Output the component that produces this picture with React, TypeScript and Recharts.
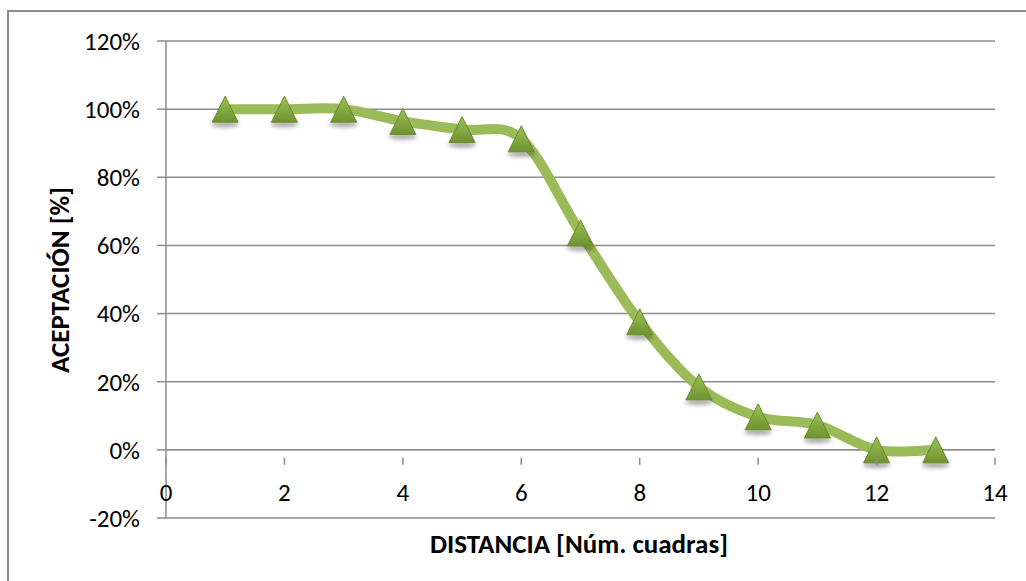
import React from 'react';
import { LineChart, Line, XAxis, YAxis, CartesianGrid, ReferenceLine } from 'recharts';

const distances = [1, 2, 3, 4, 5, 6, 7, 8, 9, 10, 11, 12, 13];
const acceptance = [1.0, 1.0, 1.0, 0.964, 0.94, 0.913, 0.637, 0.376, 0.185, 0.097, 0.073, 0.0, 0.0];
const xTicks = [0, 2, 4, 6, 8, 10, 12, 14];
const yTicks = [-0.2, 0, 0.2, 0.4, 0.6, 0.8, 1.0, 1.2];

const data = distances.map((d, i) => ({ d, v: acceptance[i] }));

const W = 1026;
const H = 581;
const M = { top: 41, right: 31, bottom: 0, left: 0 };
const Y_AXIS_W = 166;
const X_AXIS_H = 63;
const FONT = 'Carlito, "Liberation Sans Narrow", "Open Sans", sans-serif';
const GRID = '#8c8c8c';

// plot height and offset of the 0% line above the plot bottom
const plotH = H - M.top - X_AXIS_H;
const zeroUp = (plotH * (0 - yTicks[0])) / (yTicks[yTicks.length - 1] - yTicks[0]);

// Catmull-Rom style smoothing, close to Excel's smoothed line
const smooth = (ctx: any) => {
  let pts: number[][] = [];
  const k = 1 / 6;
  return {
    areaStart() {},
    areaEnd() {},
    lineStart() { pts = []; },
    point(x: number, y: number) { pts.push([+x, +y]); },
    lineEnd() {
      const n = pts.length;
      if (!n) return;
      ctx.moveTo(pts[0][0], pts[0][1]);
      for (let i = 0; i < n - 1; i++) {
        const p0 = pts[Math.max(i - 1, 0)];
        const p1 = pts[i];
        const p2 = pts[i + 1];
        const p3 = pts[Math.min(i + 2, n - 1)];
        ctx.bezierCurveTo(
          p1[0] + k * (p2[0] - p0[0]), p1[1] + k * (p2[1] - p0[1]),
          p2[0] - k * (p3[0] - p1[0]), p2[1] - k * (p3[1] - p1[1]),
          p2[0], p2[1]
        );
      }
    },
  };
};

const Triangle = (props: any) => {
  const { cx, cy, index } = props;
  if (cx == null || cy == null) return null;
  const s = 13;
  const pts = `${cx},${cy - s} ${cx + s},${cy + s} ${cx - s},${cy + s}`;
  return (
    <g key={`tri-${index}`}>
      <ellipse cx={cx} cy={cy + s + 2} rx={s + 1} ry={3} fill="#000" opacity={0.35} filter="url(#triShadow)" />
      <polygon points={pts} fill="url(#triFill)" stroke="#6b8a2e" strokeWidth={1} />
    </g>
  );
};

const XTick = (props: any) => {
  const { x, y, payload } = props;
  const y0 = y - zeroUp;
  return (
    <g>
      <line x1={x} x2={x} y1={y0} y2={y0 + 7} stroke={GRID} strokeWidth={1.5} />
      <text x={x} y={y0 + 43} textAnchor="middle" fill="#000" fontSize={25} fontFamily={FONT}>
        {payload.value}
      </text>
    </g>
  );
};

const App: React.FC = () => (
  <div style={{ position: 'absolute', left: 0, top: 0, width: W, height: H, background: '#fff', overflow: 'hidden' }}>
    <div style={{ position: 'absolute', left: 7, top: 10, width: W, height: H, borderLeft: `2px solid ${GRID}`, borderTop: `2px solid ${GRID}` }} />
    <div style={{ position: 'absolute', left: 0, top: 0 }}>
      <LineChart width={W} height={H} data={data} margin={M}>
        <defs>
          <linearGradient id="triFill" x1="0" y1="0" x2="0" y2="1">
            <stop offset="0%" stopColor="#9bc255" />
            <stop offset="100%" stopColor="#6e9330" />
          </linearGradient>
          <filter id="triShadow" x="-50%" y="-200%" width="200%" height="500%">
            <feGaussianBlur stdDeviation="2" />
          </filter>
        </defs>
        <CartesianGrid vertical={false} stroke={GRID} strokeWidth={1.5} />
        <XAxis
          dataKey="d"
          type="number"
          domain={[0, 14]}
          ticks={xTicks}
          height={X_AXIS_H}
          axisLine={false}
          tickLine={false}
          tick={<XTick />}
          interval={0}
          label={{
            content: () => (
              <text x={579} y={553} textAnchor="middle" fontSize={27} fontWeight="bold" fontFamily={FONT} fill="#000">
                DISTANCIA [Núm. cuadras]
              </text>
            ),
          }}
        />
        <YAxis
          type="number"
          domain={[-0.2, 1.2]}
          ticks={yTicks}
          width={Y_AXIS_W}
          interval={0}
          stroke={GRID}
          axisLine={{ stroke: GRID, strokeWidth: 1.5 }}
          tickLine={{ stroke: GRID, strokeWidth: 1.5 }}
          tickSize={9}
          tickMargin={17}
          tick={{ fill: '#000', fontSize: 25, fontFamily: FONT }}
          tickFormatter={(v: number) => `${Math.round(v * 100)}%`}
          label={{
            content: () => (
              <text
                x={0}
                y={0}
                transform="translate(69,280) rotate(-90)"
                textAnchor="middle"
                fontSize={27}
                fontWeight="bold"
                fontFamily={FONT}
                fill="#000"
              >
                ACEPTACIÓN [%]
              </text>
            ),
          }}
        />
        <ReferenceLine y={0} stroke={GRID} strokeWidth={1.5} />
        <Line
          type={smooth as any}
          dataKey="v"
          stroke="#9bbb59"
          strokeWidth={10}
          dot={<Triangle />}
          activeDot={false}
          isAnimationActive={false}
        />
      </LineChart>
    </div>
  </div>
);

export default App;
